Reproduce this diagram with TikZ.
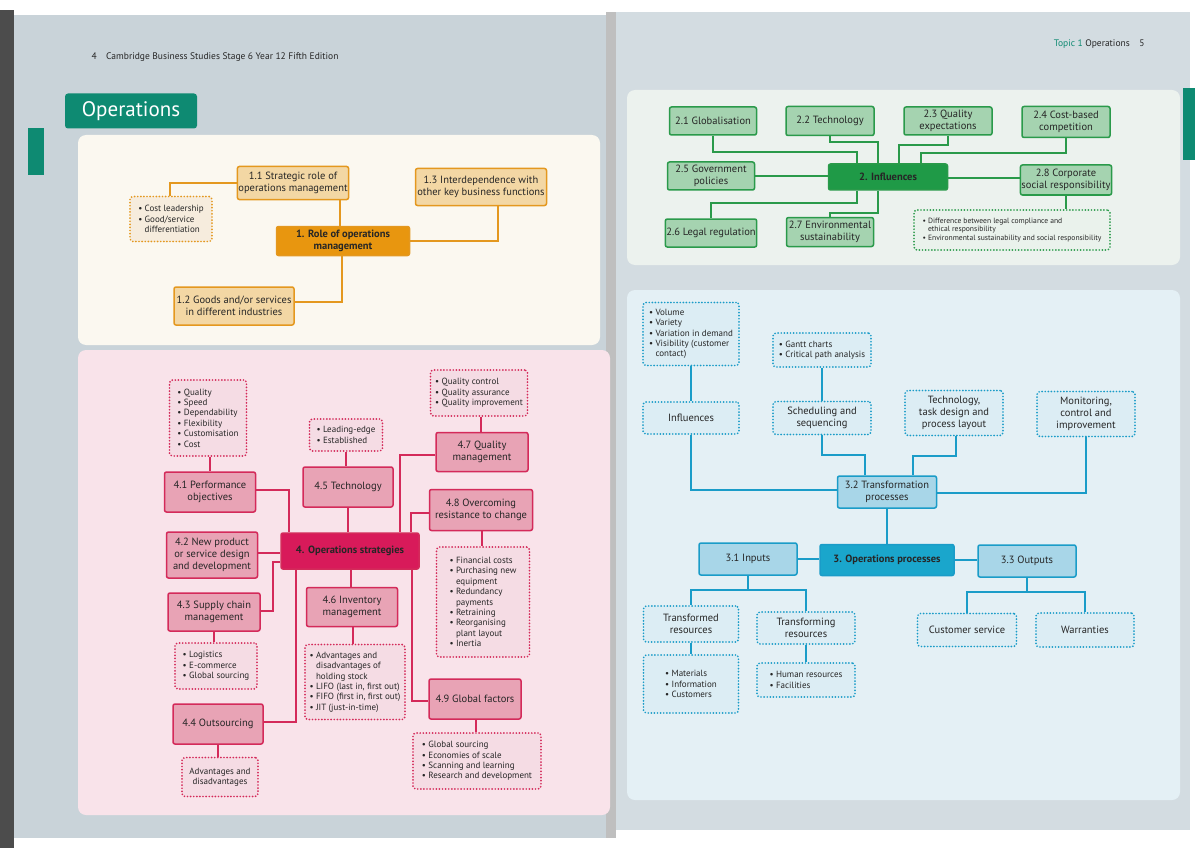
\documentclass[tikz,border=0pt]{standalone}
\usepackage{fontspec}
\setmainfont{PT Sans}
\begin{document}
\begin{tikzpicture}[x=1pt,y=-1pt,
 every node/.style={font=\fontsize{10.5}{12}\selectfont, text=black!85},
 box/.style={draw, rounded corners=2pt, line width=1.5pt, inner sep=1pt, align=center},
 dots/.style={draw, rounded corners=3pt, line width=1.9pt, line cap=round, dash pattern=on 0pt off 3.1pt, inner sep=2pt, align=left, font=\fontsize{9}{10.4}\selectfont},
 ob/.style={box, draw=oB, fill=oF}, od/.style={dots, draw=oB, fill=oD},
 gb/.style={box, draw=gB, fill=gF}, gd/.style={dots, draw=gB, fill=gD},
 bb/.style={box, draw=bB, fill=bF}, bd/.style={dots, draw=bB, fill=bD},
 pb/.style={box, draw=pB, fill=pF}, pd/.style={dots, draw=pB, fill=pD},
 ol/.style={draw=oB, line width=1.5pt}, gl/.style={draw=gB, line width=1.5pt},
 bl/.style={draw=bB, line width=1.5pt}, pl/.style={draw=pB, line width=1.5pt},
 bt/.style={font=\fontsize{10.5}{12}\selectfont, align=center},
 ]
\definecolor{oB}{HTML}{E4981F}\definecolor{oF}{HTML}{F3D7A4}\definecolor{oD}{HTML}{F6ECDD}\definecolor{oC}{HTML}{E8960F}
\definecolor{gB}{HTML}{2A9A4A}\definecolor{gF}{HTML}{A5D3B0}\definecolor{gD}{HTML}{EAF2EC}\definecolor{gC}{HTML}{1F9A47}
\definecolor{bB}{HTML}{1A9CC8}\definecolor{bF}{HTML}{A8D6E8}\definecolor{bD}{HTML}{DCEDF4}\definecolor{bC}{HTML}{1AA6CC}
\definecolor{pB}{HTML}{D42A5A}\definecolor{pF}{HTML}{E8A3B5}\definecolor{pD}{HTML}{F5DCE4}\definecolor{pC}{HTML}{D81A5A}
\definecolor{teal}{HTML}{0E8A72}
\definecolor{pgL}{HTML}{C9D3D9}\definecolor{pgR}{HTML}{D3DCE1}
\definecolor{p1}{HTML}{FBF8F0}\definecolor{p4}{HTML}{F9E3EA}\definecolor{p2}{HTML}{ECF2EE}\definecolor{p3}{HTML}{E4F0F5}
\useasboundingbox (0,0) rectangle (1200,848);
% background pages
\fill[white] (0,0) rectangle (1200,848);
\fill[black!70] (0,10) rectangle (14,848);
\fill[pgL] (14,15) rectangle (612,838);
\fill[pgR] (612,12) rectangle (1190,830);
\fill[black!25] (606,12) rectangle (616,838);
\fill[teal] (28,128) rectangle (44,175);
\fill[teal] (1183,88) rectangle (1195,160);
% headers
\node[anchor=west, font=\fontsize{9.5}{11}\selectfont] (hl) at (88,57) {4\quad Cambridge Business Studies Stage 6 Year 12 Fifth Edition};
\node[anchor=east, font=\fontsize{9.5}{11}\selectfont] (hr) at (1148,44) {\textcolor{teal}{Topic 1} Operations\quad 5};
\node[fill=teal, rounded corners=3pt, text=white, font=\fontsize{21}{24}\selectfont, minimum width=132pt, minimum height=35pt, inner sep=0pt] (title) at (131,111) {Operations};
% panels
\fill[p1, rounded corners=8pt] (78,135) rectangle (600,345);
\fill[p4, rounded corners=8pt] (78,350) rectangle (610,815);
\fill[p2, rounded corners=8pt] (627,90) rectangle (1180,265);
\fill[p3, rounded corners=8pt] (627,290) rectangle (1180,800);

% ===== Section 1
\node[ob, minimum width=109pt, minimum height=33pt] (n11) at (293,183) {1.1 Strategic role of\\operations management};
\node[ob, minimum width=131pt, minimum height=37pt] (n13) at (481,187) {1.3 Interdependence with\\other key business functions};
\node[box, draw=oB, fill=oC, minimum width=133pt, minimum height=29pt, font=\bfseries\fontsize{10.5}{12}\selectfont] (n1) at (343,241) {1. Role of operations\\management};
\node[ob, minimum width=120pt, minimum height=38pt] (n12) at (234,306) {1.2 Goods and/or services\\in different industries};
\node[od, minimum width=82pt, minimum height=45pt] (n1b) at (171,219) {• Cost leadership\\• Good/service\\\hphantom{• }differentiation};
\draw[ol] (n11.west) -- (170,183) -- (n1b.north -| 170,0);
\draw[ol] (n11.south -| 340,0) -- (n1.north -| 340,0);
\draw[ol] (n1.east) -- (498,241) -- (n13.south -| 498,0);
\draw[ol] (n1.south -| 342,0) -- (342,302) -- (n12.east |- 0,302);

% ===== Section 2
\node[gb, minimum width=87pt, minimum height=28pt] (n21) at (713,121) {2.1 Globalisation};
\node[gb, minimum width=88pt, minimum height=29pt] (n22) at (830,121) {2.2 Technology};
\node[gb, minimum width=88pt, minimum height=28pt] (n23) at (948,121) {2.3 Quality\\expectations};
\node[gb, minimum width=88pt, minimum height=31pt] (n24) at (1066,122) {2.4 Cost-based\\competition};
\node[gb, minimum width=87pt, minimum height=28pt] (n25) at (711,176) {2.5 Government\\policies};
\node[box, draw=gB, fill=gC, minimum width=119pt, minimum height=26pt, font=\bfseries\fontsize{10.5}{12}\selectfont] (n2) at (888,177) {2. Influences};
\node[gb, minimum width=88pt, minimum height=30pt] (n28) at (1066,180) {2.8 Corporate\\social responsibility};
\node[gb, minimum width=87pt, minimum height=28pt] (n26) at (711,233) {2.6 Legal regulation};
\node[gb, minimum width=87pt, minimum height=29pt] (n27) at (830,232) {2.7 Environmental\\sustainability};
\node[gd, minimum width=196pt, minimum height=40pt, font=\fontsize{7.6}{8.6}\selectfont] (n2b) at (1012,230) {• Difference between legal compliance and\\\hphantom{• }ethical responsibility\\• Environmental sustainability and social responsibility};
\draw[gl] (n21.south) -- (713,152) -- (857,152) -- (n2.north -| 857,0);
\draw[gl] (n22.south) -- (830,142) -- (878,142) -- (n2.north -| 878,0);
\draw[gl] (n23.south) -- (948,145) -- (899,145) -- (n2.north -| 899,0);
\draw[gl] (n24.south) -- (1066,153) -- (921,153) -- (n2.north -| 921,0);
\draw[gl] (n25.east) -- (n2.west |- n25.east);
\draw[gl] (n2.east |- 0,178) -- (n28.west |- 0,178);
\draw[gl] (n28.south) -- (n2b.north -| n28.south);
\draw[gl] (n2.south -| 857,0) -- (857,203) -- (711,203) -- (n26.north);
\draw[gl] (n2.south -| 878,0) -- (878,213) -- (830,213) -- (n27.north);

% ===== Section 3
\node[bd, minimum width=96pt, minimum height=63pt] (n3a) at (691,334) {• Volume\\• Variety\\• Variation in demand\\• Visibility (customer\\\hphantom{• }contact)};
\node[bd, minimum width=98pt, minimum height=34pt] (n3g) at (822,350) {• Gantt charts\\• Critical path analysis};
\node[bd, bt, minimum width=96pt, minimum height=32pt] (n3i) at (691,418) {Influences};
\node[bd, bt, minimum width=98pt, minimum height=33pt] (n3s) at (822,418) {Scheduling and\\sequencing};
\node[bd, bt, minimum width=98pt, minimum height=45pt] (n3t) at (954,413) {Technology,\\task design and\\process layout};
\node[bd, bt, minimum width=98pt, minimum height=45pt] (n3m) at (1086,414) {Monitoring,\\control and\\improvement};
\node[bb, minimum width=99pt, minimum height=32pt] (n32) at (887,492) {3.2 Transformation\\processes};
\node[bb, minimum width=98pt, minimum height=32pt] (n31) at (748,559) {3.1 Inputs};
\node[box, draw=bB, fill=bC, minimum width=134pt, minimum height=31pt, font=\bfseries\fontsize{10.5}{12}\selectfont] (n3) at (887,560) {3. Operations processes};
\node[bb, minimum width=98pt, minimum height=32pt] (n33) at (1027,561) {3.3 Outputs};
\node[bd, bt, minimum width=95pt, minimum height=36pt] (n3tr) at (691,624) {Transformed\\resources};
\node[bd, bt, minimum width=98pt, minimum height=32pt] (n3tg) at (806,628) {Transforming\\resources};
\node[bd, bt, minimum width=99pt, minimum height=33pt] (n3c) at (967,630) {Customer service};
\node[bd, bt, minimum width=98pt, minimum height=34pt] (n3w) at (1085,630) {Warranties};
\node[bd, minimum width=95pt, minimum height=58pt] (n3mat) at (691,684) {• Materials\\• Information\\• Customers};
\node[bd, minimum width=98pt, minimum height=34pt] (n3h) at (806,680) {• Human resources\\• Facilities};
\draw[bl] (n3a.south) -- (n3i.north);
\draw[bl] (n3i.south) -- (691,490) -- (n32.west |- 0,490);
\draw[bl] (n3g.south) -- (n3s.north);
\draw[bl] (n3s.south) -- (822,455) -- (865,455) -- (n32.north -| 865,0);
\draw[bl] (n3t.south -| 956,0) -- (956,456) -- (913,456) -- (n32.north -| 913,0);
\draw[bl] (n3m.south) -- (1086,493) -- (n32.east |- 0,493);
\draw[bl] (n32.south) -- (n3.north);
\draw[bl] (n31.east) -- (n3.west |- n31.east);
\draw[bl] (n3.east) -- (n33.west |- n3.east);
\draw[bl] (n31.south) -- (748,590) -- (691,590) -- (n3tr.north);
\draw[bl] (748,590) -- (806,590) -- (n3tg.north);
\draw[bl] (n33.south) -- (1027,592) -- (967,592) -- (n3c.north);
\draw[bl] (1027,592) -- (1085,592) -- (n3w.north);
\draw[bl] (n3tr.south) -- (n3mat.north);
\draw[bl] (n3tg.south) -- (n3h.north);

% ===== Section 4
\node[pd, minimum width=77pt, minimum height=76pt] (p1b) at (208,418) {• Quality\\• Speed\\• Dependability\\• Flexibility\\• Customisation\\• Cost};
\node[pb, minimum width=91pt, minimum height=40pt] (p41) at (210,492) {4.1 Performance\\objectives};
\node[pd, minimum width=73pt, minimum height=32pt] (p5b) at (346,435) {• Leading-edge\\• Established};
\node[pb, minimum width=90pt, minimum height=40pt] (p45) at (348,487) {4.5 Technology};
\node[pd, minimum width=97pt, minimum height=46pt] (p7b) at (479,393) {• Quality control\\• Quality assurance\\• Quality improvement};
\node[pb, minimum width=92pt, minimum height=39pt] (p47) at (482,452) {4.7 Quality\\management};
\node[pb, minimum width=103pt, minimum height=41pt] (p48) at (481,510) {4.8 Overcoming\\resistance to change};
\node[box, draw=pB, fill=pC, minimum width=138pt, minimum height=36pt, font=\bfseries\fontsize{10.5}{12}\selectfont] (p4) at (350,551) {4. Operations strategies};
\node[pb, minimum width=91pt, minimum height=46pt] (p42) at (212,555) {4.2 New product\\or service design\\and development};
\node[pb, minimum width=92pt, minimum height=38pt] (p43) at (214,612) {4.3 Supply chain\\management};
\node[pd, minimum width=93pt, minimum height=110pt] (p8b) at (483,602) {• Financial costs\\• Purchasing new\\\hphantom{• }equipment\\• Redundancy\\\hphantom{• }payments\\• Retraining\\• Reorganising\\\hphantom{• }plant layout\\• Inertia};
\node[pb, minimum width=91pt, minimum height=39pt] (p46) at (352,607) {4.6 Inventory\\management};
\node[pd, minimum width=82pt, minimum height=46pt] (p3b) at (216,666) {• Logistics\\• E-commerce\\• Global sourcing};
\node[pd, minimum width=100pt, minimum height=75pt] (p6b) at (355,682) {• Advantages and\\\hphantom{• }disadvantages of\\\hphantom{• }holding stock\\• LIFO (last in, first out)\\• FIFO (first in, first out)\\• JIT (just-in-time)};
\node[pb, minimum width=92pt, minimum height=40pt] (p49) at (475,699) {4.9 Global factors};
\node[pb, minimum width=90pt, minimum height=40pt] (p44) at (218,724) {4.4 Outsourcing};
\node[pd, align=center, minimum width=76pt, minimum height=39pt] (p4b) at (220,777) {Advantages and\\disadvantages};
\node[pd, minimum width=128pt, minimum height=56pt] (p9b) at (477,761) {• Global sourcing\\• Economies of scale\\• Scanning and learning\\• Research and development};
\draw[pl] (p1b.south -| 210,0) -- (p41.north);
\draw[pl] (p41.east |- 0,490) -- (289,490) -- (p4.north -| 289,0);
\draw[pl] (p42.east |- 0,553) -- (p4.west |- 0,553);
\draw[pl] (p43.east |- 0,611) -- (273,611) -- (273,562) -- (p4.west |- 0,562);
\draw[pl] (p43.south) -- (p3b.north -| p43.south);
\draw[pl] (p44.east |- 0,722) -- (296,722) -- (p4.south -| 296,0);
\draw[pl] (p44.south) -- (p4b.north -| p44.south);
\draw[pl] (p5b.south) -- (p45.north -| p5b.south);
\draw[pl] (p45.south) -- (p4.north -| p45.south);
\draw[pl] (p4.south -| 351,0) -- (p46.north -| 351,0);
\draw[pl] (p46.south -| 353,0) -- (p6b.north -| 353,0);
\draw[pl] (p7b.south -| 481,0) -- (p47.north -| 481,0);
\draw[pl] (p47.west |- 0,455) -- (400,455) -- (p4.north -| 400,0);
\draw[pl] (p48.west |- 0,513) -- (411,513) -- (p4.north -| 411,0);
\draw[pl] (p48.south -| 482,0) -- (p8b.north -| 482,0);
\draw[pl] (p4.south -| 412,0) -- (412,701) -- (p49.west |- 0,701);
\draw[pl] (p49.south -| 476,0) -- (p9b.north -| 476,0);
\end{tikzpicture}
\end{document}
